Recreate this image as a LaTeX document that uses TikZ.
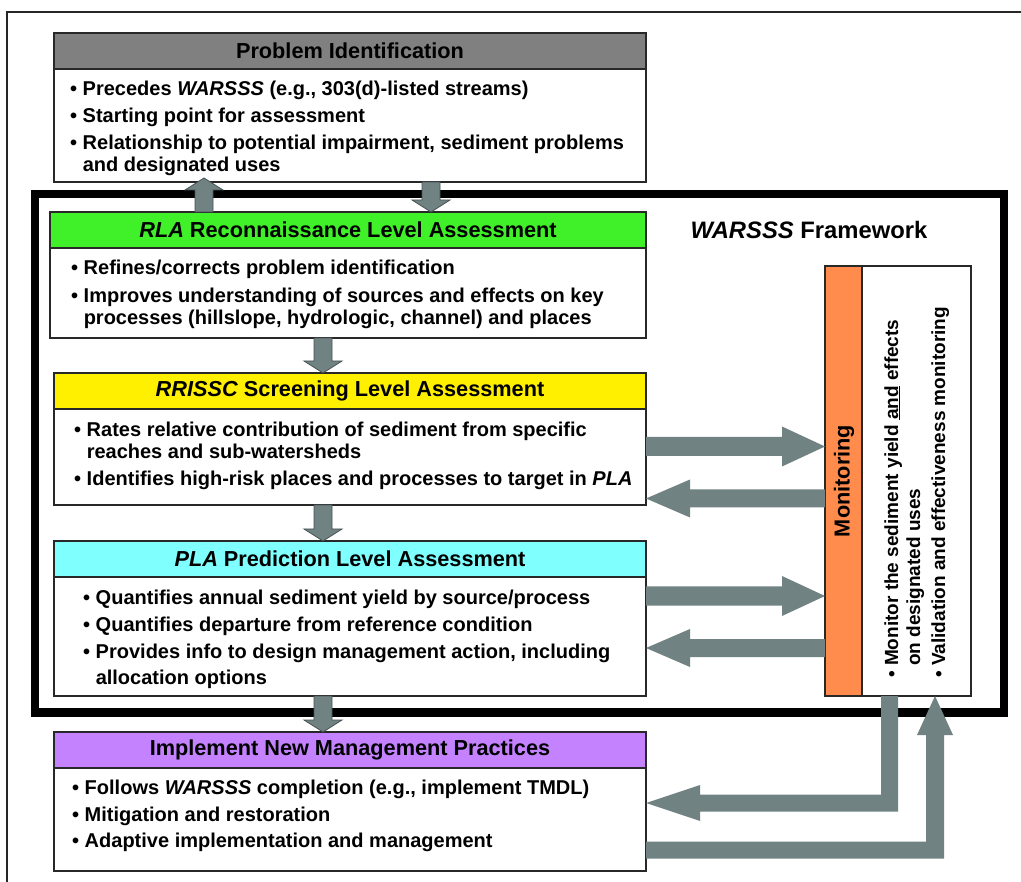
\documentclass[tikz,border=0pt]{standalone}
\usepackage{fontspec}
\setmainfont{Liberation Sans}
\usetikzlibrary{calc}
\definecolor{arrgray}{RGB}{112,130,130}
\definecolor{arredge}{RGB}{70,82,82}
\definecolor{hdgray}{RGB}{128,128,128}
\definecolor{hdgreen}{RGB}{64,240,40}
\definecolor{hdyellow}{RGB}{255,240,0}
\definecolor{hdcyan}{RGB}{128,255,255}
\definecolor{hdpurple}{RGB}{196,130,255}
\definecolor{hdorange}{RGB}{255,140,76}
\definecolor{boxline}{RGB}{40,40,40}
\newcommand\bodyfont{\fontsize{20pt}{22pt}\selectfont\bfseries}
\newcommand\monfont{\fontsize{19pt}{21pt}\selectfont\bfseries}
\newcommand\hdfont{\fontsize{21.7pt}{24pt}\selectfont\bfseries}
\newcommand\bul{\textbullet\ }
\newcommand\cont{\phantom{\textbullet\ }}
% block arrows
\newcommand\arrdown[2]{\path[varr] let \p1=(#1), \p2=(#2) in
  (\x1-9pt,\y1) -- (\x1+9pt,\y1) -- (\x1+9pt,\y2+12pt) -- (\x1+19pt,\y2+12pt) -- (\x1,\y2)
  -- (\x1-19pt,\y2+12pt) -- (\x1-9pt,\y2+12pt) -- cycle;}
\newcommand\arrup[2]{\path[varr] let \p1=(#1), \p2=(#2) in
  (\x1-9pt,\y1) -- (\x1+9pt,\y1) -- (\x1+9pt,\y2-8pt) -- (\x1+19pt,\y2-8pt) -- (\x1,\y2+4pt)
  -- (\x1-19pt,\y2-8pt) -- (\x1-9pt,\y2-8pt) -- cycle;}
\newcommand\arrright[2]{\path[harr] let \p1=(#1), \p2=(#2) in
  (\x1,\y1+9.5pt) -- (\x2-43pt,\y1+9.5pt) -- (\x2-43pt,\y1+20pt) -- (\x2,\y1)
  -- (\x2-43pt,\y1-20pt) -- (\x2-43pt,\y1-9.5pt) -- (\x1,\y1-9.5pt) -- cycle;}
\newcommand\arrleft[2]{\path[harr] let \p1=(#1), \p2=(#2) in
  (\x1,\y1+9pt) -- (\x2+44pt,\y1+9pt) -- (\x2+44pt,\y1+19pt) -- (\x2,\y1)
  -- (\x2+44pt,\y1-19pt) -- (\x2+44pt,\y1-9pt) -- (\x1,\y1-9pt) -- cycle;}
\begin{document}
\begin{tikzpicture}[x=1pt,y=-1pt,
  box/.style={draw=boxline,line width=1.2pt,inner sep=0pt,outer sep=0pt,anchor=north west,minimum width=592pt},
  hdr/.style={box,minimum height=36pt,font=\hdfont},
  txt/.style={anchor=base west,inner sep=0pt,font=\bodyfont},
  rtxt/.style={anchor=base west,inner sep=0pt,font=\monfont,rotate=90},
  varr/.style={fill=arrgray,draw=arredge,line width=0.8pt},
  harr/.style={fill=arrgray}]
\useasboundingbox (0,0) rectangle (1021,882);
\fill[white] (0,0) rectangle (1021,882);
% outer thin frame
\draw[line width=1.5pt,black!85] (7,882) -- (7,12) -- (1021,12);
% thick framework frame
\draw[line width=8.5pt,black] (35,194) rectangle (1004,712.5);
\node[font=\fontsize{23.8pt}{26pt}\selectfont\bfseries] (fw) at (809,230) {\textit{WARSSS} Framework};

% Problem identification
\node[hdr,fill=hdgray] (probh) at (54,33) {Problem Identification};
\node[box,minimum height=113pt,fill=white] (probb) at (54,69) {};
% RLA
\node[hdr,fill=hdgreen,minimum width=596pt] (rlah) at (50,212) {\textit{RLA} Reconnaissance Level Assessment};
\node[box,minimum width=596pt,minimum height=90pt,fill=white] (rlab) at (50,248) {};
% RRISSC
\node[hdr,fill=hdyellow] (rrh) at (54,373) {\textit{RRISSC} Screening Level Assessment};
\node[box,minimum height=96pt,fill=white] (rrb) at (54,409) {};
% PLA
\node[hdr,fill=hdcyan] (plah) at (54,541) {\textit{PLA} Prediction Level Assessment};
\node[box,minimum height=119pt,fill=white] (plab) at (54,577) {};
% Implement
\node[hdr,fill=hdpurple] (imph) at (54,732) {Implement New Management Practices};
\node[box,minimum height=103pt,fill=white] (impb) at (54,768) {};
% Monitoring
\node[box,fill=hdorange,minimum width=37pt,minimum height=430pt] (monh) at (825,266) {};
\node[box,fill=white,minimum width=109pt,minimum height=430pt] (monb) at (862,266) {};
\node[font=\hdfont,rotate=90] (montitle) at (844,481) {Monitoring};

% helper coordinates
\coordinate (cxup) at (204,0);
\coordinate (cxdn) at (431,0);
\coordinate (cxmid) at (323,0);
\coordinate (ya) at (0,446.5);
\coordinate (yb) at (0,498.5);
\coordinate (yc) at (0,596);
\coordinate (yd) at (0,648);
\coordinate (cxA) at (889.5,0);
\coordinate (cyA) at (0,803);
\coordinate (cxB) at (935,0);
\coordinate (cyB) at (0,850);

% vertical arrows
\arrup{rlah.north -| cxup}{probb.south -| cxup}
\arrdown{probb.south -| cxdn}{rlah.north -| cxdn}
\arrdown{rlab.south -| cxmid}{rrh.north -| cxmid}
\arrdown{rrb.south -| cxmid}{plah.north -| cxmid}
\arrdown{plab.south -| cxmid}{imph.north -| cxmid}
% horizontal arrows
\arrright{rrb.east |- ya}{monh.west |- ya}
\arrleft{monh.west |- yb}{rrb.east |- yb}
\arrright{plab.east |- yc}{monh.west |- yc}
\arrleft{monh.west |- yd}{plab.east |- yd}
% bent arrow: monitoring -> implement
\path[harr] let \p1=(monb.south -| cxA), \p2=(impb.east |- cyA) in
  (\x1-8.5pt,\y1) -- (\x1+8.5pt,\y1) -- (\x1+8.5pt,\y2-8.5pt) -- (\x2+54pt,\y2-8.5pt)
  -- (\x2+54pt,\y2-18pt) -- (\x2,\y2) -- (\x2+54pt,\y2+18pt) -- (\x2+54pt,\y2+8.5pt)
  -- (\x1-8.5pt,\y2+8.5pt) -- cycle;
% bent arrow: implement -> monitoring
\path[harr] let \p1=(impb.east |- cyB), \p2=(monb.south -| cxB) in
  (\x1,\y1+8.5pt) -- (\x2-9pt,\y1+8.5pt) -- (\x2-9pt,\y2-39pt) -- (\x2-18pt,\y2-39pt)
  -- (\x2,\y2) -- (\x2+18pt,\y2-39pt) -- (\x2+9pt,\y2-39pt) -- (\x2+9pt,\y1-8.5pt)
  -- (\x1,\y1-8.5pt) -- cycle;

% body texts
\node[txt] (p1) at (70,96) {\bul Precedes \textit{WARSSS} (e.g., 303(d)-listed streams)};
\node[txt] (p2) at (70,123) {\bul Starting point for assessment};
\node[txt] (p3) at (70,150) {\bul Relationship to potential impairment, sediment problems};
\node[txt] (p4) at (70,172) {\cont and designated uses};

\node[txt] (r1) at (71,275) {\bul Refines/corrects problem identification};
\node[txt] (r2) at (71,303) {\bul Improves understanding of sources and effects on key};
\node[txt] (r3) at (71,325) {\cont processes (hillslope, hydrologic, channel) and places};

\node[txt] (s1) at (74,437) {\bul Rates relative contribution of sediment from specific};
\node[txt] (s2) at (74,459) {\cont reaches and sub-watersheds};
\node[txt] (s3) at (74,486) {\bul Identifies high-risk places and processes to target in \textit{PLA}};

\node[txt] (q1) at (83,605) {\bul Quantifies annual sediment yield by source/process};
\node[txt] (q2) at (83,631) {\bul Quantifies departure from reference condition};
\node[txt] (q3) at (83,658) {\bul Provides info to design management action, including};
\node[txt] (q4) at (83,684) {\cont allocation options};

\node[txt] (i1) at (72,794) {\bul Follows \textit{WARSSS} completion (e.g., implement TMDL)};
\node[txt] (i2) at (72,821) {\bul Mitigation and restoration};
\node[txt] (i3) at (72,847) {\bul Adaptive implementation and management};

\node[rtxt] (m1) at (898,678) {\bul Monitor the sediment yield \underline{and} effects};
\node[rtxt] (m2) at (920,678) {\cont on designated uses};
\node[rtxt] (m3) at (945,678) {\bul Validation and effectiveness monitoring};
\end{tikzpicture}
\end{document}
